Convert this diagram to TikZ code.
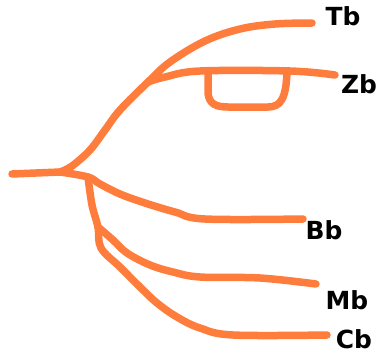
\documentclass[tikz,border=0pt]{standalone}
\usepackage{fontspec}
\setmainfont{DejaVu Sans}
\definecolor{branch}{RGB}{255,125,60}
\begin{document}
\begin{tikzpicture}[x=1bp,y=-1bp,
  br/.style={draw=branch,line width=7.5bp,line cap=round,line join=round},
  lbl/.style={font=\fontsize{25}{27}\selectfont\bfseries,text=black,inner sep=0pt}]
\useasboundingbox (0,0) rectangle (383,355);
% labels
\node[lbl] (Tb) at (343,16) {Tb};
\node[lbl] (Zb) at (359,84) {Zb};
\node[lbl] (Bb) at (324,230) {Bb};
\node[lbl] (Mb) at (347,300) {Mb};
\node[lbl] (Cb) at (354,339) {Cb};
% junctions and ends
\coordinate (root) at (12,174);
\coordinate (j0) at (60,172);
\coordinate (jz) at (148,82);
\coordinate (jv) at (88,177);
\coordinate (jm) at (98,227);
\coordinate (eT) at (312,23);
\coordinate (eZ) at (335,75);
\coordinate (eB) at (303,219);
\coordinate (eM) at (316,284);
\coordinate (eC) at (327,335);
% root
\draw[br] (root) -- (j0);
% Tb
\draw[br] plot[smooth,tension=0.6] coordinates {(j0) (72,166) (90,150) (105,130) (120,110) (jz) (170,62) (205,41) (240,29) (275,24) (eT)};
% Zb
\draw[br] plot[smooth,tension=0.6] coordinates {(jz) (165,77) (200,71) (290,71) (eZ)};
% loop under Zb
\draw[br] (208,72) -- (208,93) .. controls (209,104) and (216,107) .. (228,107) -- (268,107) .. controls (281,107) and (286,98) .. (287,72);
% Bb
\draw[br] plot[smooth,tension=0.6] coordinates {(j0) (jv) (100,184) (120,194) (145,203) (175,212) (205,219) (eB)};
% vertical stem and Cb
\draw[br] plot[smooth,tension=0.6] coordinates {(jv) (92,205) (jm) (101,248) (120,267) (140,287) (157,303) (177,317) (200,328) (233,335) (eC)};
% Mb
\draw[br] plot[smooth,tension=0.6] coordinates {(jm) (113,240) (127,253) (150,265) (173,272) (200,277) (260,278) (eM)};
\end{tikzpicture}
\end{document}
